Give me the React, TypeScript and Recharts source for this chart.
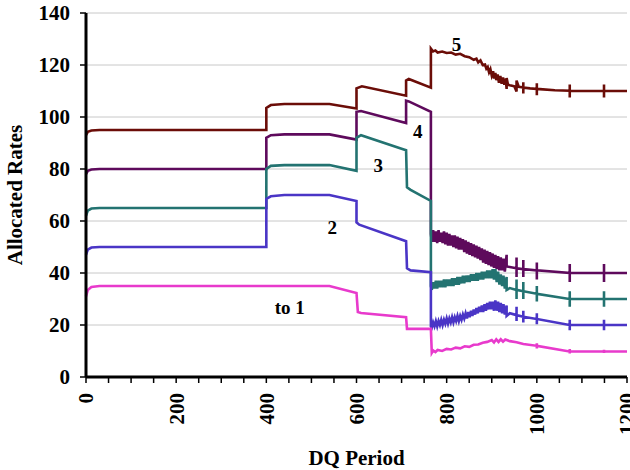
import React from "react";
import {
  LineChart,
  Line,
  XAxis,
  YAxis,
  CartesianGrid,
  ReferenceDot,
  Label,
} from "recharts";

type Pt = [number, number];

// x ticks every 50, labels only on the 200s
const xTicks = [0, 50, 100, 150, 200, 250, 300, 350, 400, 450, 500, 550, 600, 650, 700, 750, 800, 850, 900, 950, 1000, 1050, 1100, 1150, 1200];
const yTicks = [0, 20, 40, 60, 80, 100, 120, 140];

const rate5: Pt[] = [
  [0, 93], [4, 94.3], [12, 94.8], [30, 95], [400, 95], [400, 103.5], [410, 104.6], [440, 105], [540, 105],
  [600, 103.3], [600, 111], [612, 111.8], [710, 108.2], [710, 114], [716, 114.6], [765, 111.3], [765, 126.3],
  [770, 125.2], [775, 125.6], [780, 124.8], [790, 125.2], [800, 124.6], [810, 124.8], [820, 124], [830, 124.3],
  [840, 123.4], [850, 123], [860, 122], [866, 122.4], [870, 121], [875, 121.8], [880, 120], [885, 120.2],
  [888, 118.6], [891, 119.2], [894, 117.2], [897, 118.4], [900, 116], [903, 117.6], [905, 114.8], [908, 117],
  [910, 114.2], [913, 116.4], [916, 113.2], [919, 115.8], [922, 112.8], [925, 115.2], [928, 112.4], [931, 114.8],
  [933, 110.8], [933, 115], [936, 112.4], [940, 112.2], [945, 112], [950, 111.8], [955, 109.8], [955, 114],
  [960, 111.6], [970, 111.4], [970, 109], [970, 113.4], [970, 111.3], [985, 111], [1000, 110.8], [1000, 108.4],
  [1000, 113], [1000, 110.8], [1040, 110.3], [1073, 110.1], [1073, 107.5], [1073, 112.5], [1073, 110.1],
  [1149, 110], [1149, 107.5], [1149, 112.5], [1149, 110], [1200, 110],
];

const rate4: Pt[] = [
  [0, 78], [4, 79.3], [12, 79.8], [30, 80], [400, 80], [400, 92], [410, 93], [440, 93.3], [540, 93.3],
  [600, 91.3], [600, 102], [610, 102.3], [710, 97.7], [710, 106.3], [716, 106], [765, 102], [765, 55],
  [767, 52], [770, 56.5], [773, 52], [776, 56], [779, 51.5], [782, 56.5], [785, 52], [788, 55.5], [791, 51.5],
  [794, 56], [797, 51], [800, 55.5], [803, 50.5], [806, 55], [809, 50.5], [812, 54.5], [815, 50], [818, 54.5],
  [821, 49.5], [824, 54], [827, 49], [830, 53.5], [833, 49], [836, 53], [839, 48], [842, 52.5], [845, 47.5],
  [848, 52], [851, 47], [854, 51.5], [857, 46.5], [860, 51], [863, 46], [866, 50.5], [869, 45.5], [872, 50],
  [875, 45], [878, 49.5], [881, 44], [884, 49], [887, 43.5], [890, 48.5], [893, 43], [896, 48], [899, 42.5],
  [902, 47.5], [905, 42], [908, 47], [911, 41.5], [914, 46.5], [917, 41], [920, 46], [923, 41], [926, 45.5],
  [929, 40.5], [933, 47], [933, 42.5], [940, 42.3], [955, 41.8], [955, 38.5], [955, 46], [955, 41.8],
  [970, 41.5], [970, 38.5], [970, 45], [970, 41.5], [1000, 41], [1000, 37.5], [1000, 44], [1000, 41],
  [1073, 40], [1073, 36.5], [1073, 43.5], [1073, 40], [1149, 40], [1149, 36.5], [1149, 43.5], [1149, 40],
  [1200, 40],
];

const rate3: Pt[] = [
  [0, 62], [4, 64], [12, 64.8], [30, 65], [400, 65], [400, 80], [410, 81.2], [440, 81.5], [540, 81.5],
  [600, 79.3], [600, 92], [610, 93], [705, 87.5], [710, 87.2], [712, 73], [720, 72], [765, 67.7], [765, 35],
  [767, 33.5], [770, 36.5], [773, 34], [776, 37], [779, 34], [782, 37], [785, 34.5], [788, 37], [791, 34.5],
  [794, 37.5], [797, 34.5], [800, 37.5], [803, 35], [806, 37.5], [809, 35], [812, 38], [815, 35], [818, 38],
  [821, 35.5], [824, 38.5], [827, 35.5], [830, 38.5], [833, 36], [836, 39], [839, 36], [842, 39], [845, 36.5],
  [848, 39], [851, 36.5], [854, 39.5], [857, 37], [860, 39.5], [863, 37], [866, 40], [869, 37], [872, 40],
  [875, 37.5], [878, 40.5], [881, 37.5], [884, 40.5], [887, 38], [890, 41], [893, 38], [896, 41], [899, 38],
  [902, 41.5], [905, 37.5], [908, 41.5], [911, 36.5], [914, 40.5], [917, 35.5], [920, 39.5], [923, 35],
  [926, 39], [929, 34], [933, 38.5], [933, 33.5], [940, 34.2], [955, 33.5], [955, 30], [955, 37.5],
  [955, 33.5], [970, 33], [970, 30], [970, 36.5], [970, 33], [1000, 32], [1000, 29], [1000, 35], [1000, 32],
  [1073, 30], [1073, 27], [1073, 33], [1073, 30], [1149, 30], [1149, 27], [1149, 33], [1149, 30], [1200, 30],
];

const rate2: Pt[] = [
  [0, 47], [4, 49], [12, 49.8], [30, 50], [400, 50], [400, 68.5], [410, 69.5], [440, 70], [540, 70],
  [600, 67.7], [600, 59.5], [606, 58.6], [710, 52.2], [712, 41.8], [720, 41], [765, 40.3], [765, 19.5],
  [767, 19], [770, 21], [773, 19.5], [776, 21.5], [779, 19.5], [782, 21.5], [785, 20], [788, 22], [791, 20],
  [794, 22], [797, 20.5], [800, 22.5], [803, 20.5], [806, 22.5], [809, 21], [812, 23], [815, 21], [818, 23],
  [821, 21.5], [824, 23.5], [827, 21.5], [830, 23.5], [833, 22], [836, 24], [839, 22.5], [842, 24.5],
  [845, 22.5], [848, 25], [851, 23], [854, 25.5], [857, 23.5], [860, 26], [863, 24], [866, 26.5], [869, 24.5],
  [872, 27], [875, 25], [878, 27.5], [881, 25], [884, 28], [887, 25.5], [890, 28.5], [893, 26], [896, 29],
  [899, 26], [902, 29], [905, 25.5], [908, 29.5], [911, 25.5], [914, 29], [917, 25], [920, 28.5], [923, 24.5],
  [926, 28], [929, 24], [933, 27.5], [933, 23.5], [940, 24.5], [955, 23.8], [955, 21.5], [955, 27],
  [955, 23.8], [970, 23.2], [970, 21], [970, 25.5], [970, 23.2], [1000, 22.3], [1000, 20.3], [1000, 24.5],
  [1000, 22.3], [1073, 20], [1073, 18], [1073, 22], [1073, 20], [1149, 20], [1149, 18], [1149, 22], [1149, 20],
  [1200, 20],
];

const rate1: Pt[] = [
  [0, 31], [4, 33.5], [12, 34.6], [30, 35], [400, 35], [540, 35], [600, 32.3], [603, 25], [610, 24.6],
  [710, 23], [712, 18.5], [765, 18.5], [767, 9.3], [770, 10.2], [775, 9.6], [780, 10.4], [790, 10],
  [800, 10.8], [810, 10.6], [820, 11.3], [830, 11], [840, 11.8], [850, 11.6], [860, 12.4], [870, 12.5],
  [880, 13.2], [890, 13.5], [900, 14.2], [905, 13.3], [910, 14.5], [915, 13.5], [920, 14.5], [925, 13.6],
  [930, 14.4], [940, 13.8], [955, 13.4], [970, 12.7], [1000, 12], [1000, 11], [1000, 13], [1000, 12],
  [1073, 9.8], [1073, 9], [1073, 10.8], [1073, 9.8], [1149, 9.8], [1149, 9.2], [1149, 10.5], [1149, 9.8],
  [1200, 9.8],
];

const seriesLabels = [
  { text: "to 1", x: 452, y: 27 },
  { text: "2", x: 546, y: 57.5 },
  { text: "3", x: 648, y: 81.5 },
  { text: "4", x: 736, y: 94.5 },
  { text: "5", x: 822, y: 127.8 },
];

const FONT = "'Liberation Serif', 'Times New Roman', serif";

const toPts = (arr: Pt[]) => arr.map(([x, y]) => ({ x, y }));

const XTick = (props: any) => {
  const { x, y, payload } = props;
  if (payload.value % 200 !== 0) return <g />;
  return (
    <text
      x={x}
      y={y}
      transform={`rotate(-90, ${x}, ${y})`}
      textAnchor="end"
      dy="0.35em"
      fontFamily={FONT}
      fontWeight="bold"
      fontSize={21}
      fill="#000"
    >
      {payload.value}
    </text>
  );
};

export default function App() {
  const lines = [
    { key: "r5", data: rate5, color: "#6b0d08" },
    { key: "r4", data: rate4, color: "#5e0a5c" },
    { key: "r3", data: rate3, color: "#237371" },
    { key: "r2", data: rate2, color: "#4a35c6" },
    { key: "r1", data: rate1, color: "#e83acc" },
  ];

  return (
    <div style={{ position: "absolute", left: 0, top: 0, background: "#fff" }}>
      <LineChart width={630} height={470} margin={{ top: 13, right: 3, bottom: 0, left: 0 }}>
        <CartesianGrid vertical={false} stroke="#c8c8c8" strokeWidth={1} />
        <XAxis
          type="number"
          dataKey="x"
          domain={[0, 1200]}
          ticks={xTicks}
          interval={0}
          height={93}
          axisLine={{ stroke: "#000", strokeWidth: 3 }}
          tickLine={{ stroke: "#000", strokeWidth: 1.5 }}
          tickSize={6}
          tickMargin={10}
          tick={<XTick />}
        >
          <Label
            value="DQ Period"
            position="insideBottom"
            offset={5}
            fontFamily={FONT}
            fontWeight="bold"
            fontSize={21}
            fill="#000"
          />
        </XAxis>
        <XAxis
          xAxisId="top"
          orientation="top"
          type="number"
          domain={[0, 1200]}
          height={0}
          tick={false}
          tickLine={false}
          axisLine={{ stroke: "#000", strokeWidth: 2 }}
        />
        <YAxis
          type="number"
          domain={[0, 140]}
          ticks={yTicks}
          interval={0}
          width={86}
          axisLine={{ stroke: "#000", strokeWidth: 3 }}
          tickLine={{ stroke: "#000", strokeWidth: 1.5 }}
          tickSize={6}
          tickMargin={10}
          tick={{ fontFamily: FONT, fontWeight: "bold", fontSize: 21, fill: "#000" }}
        >
          <Label
            value="Allocated Rates"
            angle={-90}
            position="center"
            dx={-28}
            fontFamily={FONT}
            fontWeight="bold"
            fontSize={21}
            fill="#000"
          />
        </YAxis>
        <YAxis
          yAxisId="right"
          orientation="right"
          type="number"
          domain={[0, 140]}
          width={0}
          tick={false}
          tickLine={false}
          axisLine={{ stroke: "#000", strokeWidth: 2 }}
        />
        {lines.map((s) => (
          <Line
            key={s.key}
            data={toPts(s.data)}
            dataKey="y"
            type="linear"
            stroke={s.color}
            strokeWidth={2.6}
            dot={false}
            activeDot={false}
            isAnimationActive={false}
          />
        ))}
        {seriesLabels.map((l) => (
          <ReferenceDot
            key={l.text}
            x={l.x}
            y={l.y}
            r={0}
            fill="none"
            stroke="none"
            label={{
              value: l.text,
              position: "center",
              fontFamily: FONT,
              fontWeight: "bold",
              fontSize: 19,
              fill: "#000",
            }}
          />
        ))}
      </LineChart>
    </div>
  );
}
